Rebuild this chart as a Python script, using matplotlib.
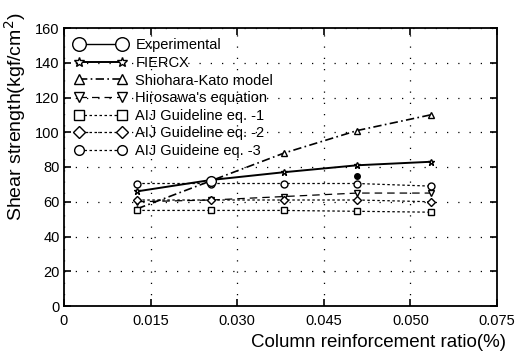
import matplotlib
matplotlib.use("Agg")
import matplotlib.pyplot as plt
import numpy as np

plt.rcParams['font.family'] = ['Liberation Sans', 'DejaVu Sans']

ratio = [0.0127, 0.0254, 0.0381, 0.0508, 0.0635]
exp_x = [0.0254, 0.0508]
experimental = [72, 75]
fiercx = [66, 72.5, 77, 81, 83]
shiohara = [56, 72, 88, 101, 110]
hirosawa = [60, 61, 63, 65, 65]
aij1 = [55, 55, 55, 54.5, 54]
aij2 = [61, 61, 61, 61, 60]
aij3 = [70.5, 70.5, 70.5, 70.5, 69]

xticks = [0, 0.015, 0.030, 0.045, 0.060, 0.075]
xticklabels = ['0', '0.015', '0.030', '0.045', '0.050', '0.075']
yticks = [0, 20, 40, 60, 80, 100, 120, 140, 160]

fig = plt.figure(figsize=(5.17, 3.56), dpi=100)
ax = fig.add_axes([64/517, 1-306/356, (497-64)/517, (306-28)/356])

mk = dict(markerfacecolor='white', markeredgecolor='black', color='black', markersize=5, markeredgewidth=1.0)

ax.plot(ratio, fiercx, linestyle='-', marker='*', lw=1.4, label='FIERCX', zorder=4, **mk)
ax.plot(ratio, shiohara, linestyle=(0, (5, 2, 1, 2)), marker='^', lw=1.2, label='Shiohara-Kato model', **mk)
ax.plot(ratio, hirosawa, linestyle=(0, (6, 4)), marker='v', lw=0.9, label="Hirosawa's equation", **mk)
ax.plot(ratio, aij1, linestyle=(0, (2, 2)), marker='s', lw=0.9, label='AIJ Guideline eq. -1', **mk)
ax.plot(ratio, aij2, linestyle=(0, (2, 2)), marker='D', lw=0.9, label='AIJ Guideline eq. -2', **{**mk, 'markersize': 4.5})
ax.plot(ratio, aij3, linestyle=(0, (2, 2)), marker='o', lw=0.9, label='AIJ Guideine eq. -3', **mk)
ax.plot(exp_x[:1], experimental[:1], linestyle='-', marker='o', lw=1.0, label='Experimental', zorder=5,
        **{**mk, 'markersize': 7})
ax.plot(exp_x[1:], experimental[1:], linestyle='none', marker='o', color='black', markersize=4, zorder=5)

ax.set_xlim(0, 0.075)
ax.set_ylim(0, 160)
ax.set_xticks(xticks)
ax.set_xticklabels(xticklabels)
ax.set_yticks(yticks)
ax.tick_params(direction='in', top=True, right=True, length=5, width=1.2, labelsize=10.5)
ax.tick_params(axis='x', pad=6)
ax.tick_params(axis='y', pad=3)
for s in ax.spines.values():
    s.set_linewidth(1.3)
ax.grid(True, color='black', linestyle=(0, (1, 8)), linewidth=0.9)

ax.set_ylabel('Shear strength(kgf/cm$^2$)', fontsize=14)
ax.yaxis.set_label_coords(-0.082, 0.68)
ax.set_xlabel('Column reinforcement ratio(%)', fontsize=13.5, ha='right')
ax.xaxis.set_label_coords(1.02, -0.1)

handles, labels = ax.get_legend_handles_labels()
order = [6, 0, 1, 2, 3, 4, 5]
leg = ax.legend([handles[i] for i in order], [labels[i] for i in order], loc='upper left',
                frameon=False, fontsize=10.5, numpoints=2, handlelength=3.6, handletextpad=0.6,
                labelspacing=0.25, borderaxespad=0.3, markerscale=1.4)

fig.savefig('out.png', dpi=100)
